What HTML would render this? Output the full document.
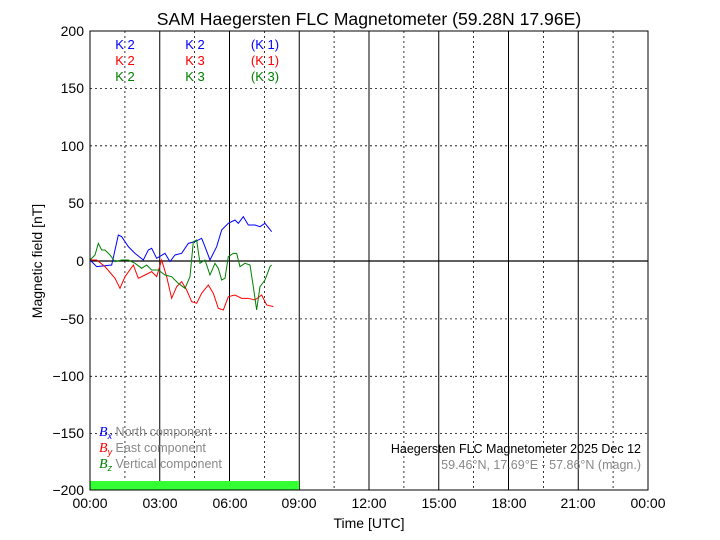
<!DOCTYPE html>
<html><head><meta charset="utf-8"><style>body{margin:0;background:#fff}svg{display:block;font-family:"Liberation Sans",sans-serif}</style></head>
<body>
<svg width="720" height="540" viewBox="0 0 720 540">
<rect width="720" height="540" fill="#fff"/>
<text x="369" y="25" font-size="17.6" text-anchor="middle">SAM Haegersten FLC Magnetometer (59.28N 17.96E)</text>
<g stroke="#000" stroke-width="0.8" stroke-dasharray="2,3">
<line x1="90" x2="648" y1="88.4" y2="88.4"/><line x1="90" x2="648" y1="145.8" y2="145.8"/><line x1="90" x2="648" y1="203.1" y2="203.1"/>
<line x1="90" x2="648" y1="318.9" y2="318.9"/><line x1="90" x2="648" y1="376.3" y2="376.3"/><line x1="90" x2="648" y1="433.6" y2="433.6"/>
<line y1="31" y2="490" x1="124.9" x2="124.9"/><line y1="31" y2="490" x1="194.6" x2="194.6"/><line y1="31" y2="490" x1="264.4" x2="264.4"/>
<line y1="31" y2="490" x1="334.1" x2="334.1"/><line y1="31" y2="490" x1="403.9" x2="403.9"/><line y1="31" y2="490" x1="473.6" x2="473.6"/><line y1="31" y2="490" x1="543.4" x2="543.4"/><line y1="31" y2="490" x1="613.1" x2="613.1"/>
</g>
<g stroke="#000" stroke-width="1">
<line y1="31" y2="490" x1="159.75" x2="159.75"/><line y1="31" y2="490" x1="229.5" x2="229.5"/><line y1="31" y2="490" x1="299.25" x2="299.25"/><line y1="31" y2="490" x1="369" x2="369"/><line y1="31" y2="490" x1="438.75" x2="438.75"/><line y1="31" y2="490" x1="508.5" x2="508.5"/><line y1="31" y2="490" x1="578.25" x2="578.25"/>
<line x1="90" x2="648" y1="261" y2="261" stroke-width="1.3"/>
</g>
<rect x="90" y="481" width="209" height="9" fill="#33ff33"/>
<g transform="translate(85,200) scale(0.3333)" fill="none" stroke-width="3">
<polyline stroke="#0000ff" points="15,180 35,200 80,195 100,105 110,110 130,140 150,160 175,180 190,150 200,145 215,175 240,160 255,185 270,165 290,160 310,130 330,125 350,115 360,140 375,180 395,140 410,90 430,70 450,60 460,70 475,50 490,75 510,75 525,80 540,70 560,95"/>
<polyline stroke="#ff0000" points="15,180 35,180 60,200 90,235 105,265 120,230 145,195 160,235 180,225 200,215 215,230 230,180 245,230 260,295 275,260 290,245 305,270 320,305 335,310 350,280 370,255 385,280 400,325 415,330 430,290 450,285 470,295 490,295 510,300 530,285 545,315 565,320"/>
<polyline stroke="#008000" points="15,180 30,165 40,130 50,150 60,150 75,165 90,185 110,180 130,180 150,190 170,205 185,195 200,210 220,210 240,225 260,230 280,250 300,265 315,230 325,125 335,120 345,190 360,180 375,225 390,190 400,205 410,240 420,235 430,170 445,160 455,160 465,200 480,190 495,195 505,260 515,330 525,260 540,240 555,200 560,195"/>
</g>
<rect x="90" y="31" width="558" height="459" fill="none" stroke="#000" stroke-width="1"/>
<g font-size="13" text-anchor="middle">
<text x="125" y="49" fill="#0000ff">K 2</text><text x="125" y="65" fill="#ff0000">K 2</text><text x="125" y="81" fill="#008000">K 2</text>
<text x="195" y="49" fill="#0000ff">K 2</text><text x="195" y="65" fill="#ff0000">K 3</text><text x="195" y="81" fill="#008000">K 3</text>
<text x="265" y="49" fill="#0000ff">(K 1)</text><text x="265" y="65" fill="#ff0000">(K 1)</text><text x="265" y="81" fill="#008000">(K 3)</text>
</g>
<g font-size="14" text-anchor="end">
<text x="84" y="36">200</text><text x="84" y="93">150</text><text x="84" y="151">100</text><text x="84" y="208">50</text><text x="84" y="266">0</text>
<text x="84" y="324">−50</text><text x="84" y="381">−100</text><text x="84" y="438">−150</text><text x="84" y="495">−200</text>
</g>
<g font-size="14" text-anchor="middle">
<text x="90" y="508">00:00</text><text x="160" y="508">03:00</text><text x="230" y="508">06:00</text><text x="299" y="508">09:00</text><text x="369" y="508">12:00</text><text x="439" y="508">15:00</text><text x="509" y="508">18:00</text><text x="578" y="508">21:00</text><text x="648" y="508">00:00</text>
</g>
<text x="369" y="528" font-size="14" text-anchor="middle">Time [UTC]</text>
<text transform="translate(42,261) rotate(-90)" font-size="14" text-anchor="middle">Magnetic field [nT]</text>
<g font-size="12.5" fill="#888">
<text x="99" y="436"><tspan fill="#0000ff" font-family="Liberation Serif" font-style="italic" font-size="14">B</tspan><tspan fill="#0000ff" font-size="9" font-style="italic" dy="3">x</tspan><tspan dy="-3"> North component</tspan></text>
<text x="99" y="452"><tspan fill="#ff0000" font-family="Liberation Serif" font-style="italic" font-size="14">B</tspan><tspan fill="#ff0000" font-size="9" font-style="italic" dy="3">y</tspan><tspan dy="-3"> East component</tspan></text>
<text x="99" y="468"><tspan fill="#008000" font-family="Liberation Serif" font-style="italic" font-size="14">B</tspan><tspan fill="#008000" font-size="9" font-style="italic" dy="3">z</tspan><tspan dy="-3"> Vertical component</tspan></text>
</g>
<text x="641" y="453" font-size="12.5" text-anchor="end">Haegersten FLC Magnetometer 2025 Dec 12</text>
<text x="641" y="469" font-size="12.5" text-anchor="end" fill="#888">59.46°N, 17.69°E - 57.86°N (magn.)</text>
</svg>
</body></html>
